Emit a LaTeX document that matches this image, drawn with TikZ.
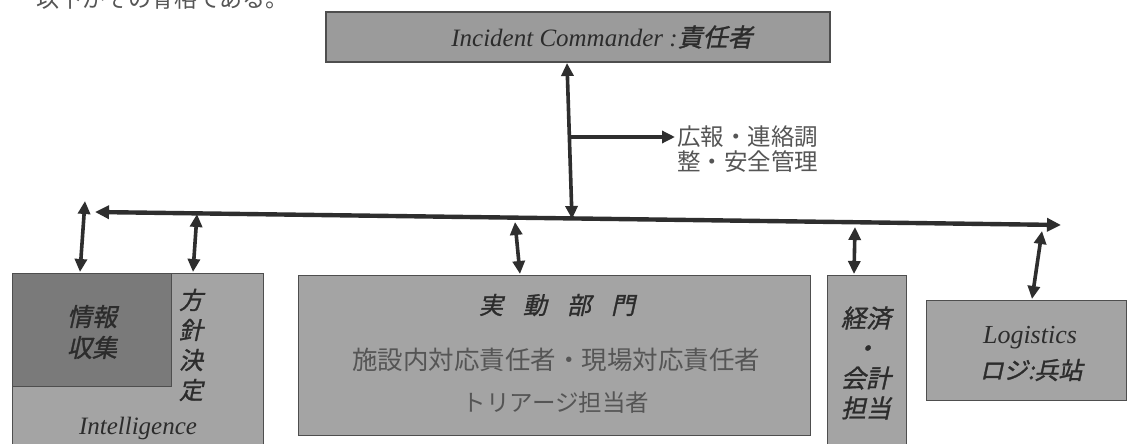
\documentclass[tikz,border=0pt]{standalone}
\usepackage{fontspec}
\setmainfont{Liberation Serif}
\newfontfamily\jp{Noto Sans CJK JP}
\newfontfamily\jpit[FakeSlant=0.22,FakeBold=1.2]{Noto Sans CJK JP}
\usetikzlibrary{arrows.meta}
\definecolor{boxfill}{HTML}{A4A4A4}
\definecolor{topfill}{HTML}{9B9B9B}
\definecolor{darkfill}{HTML}{7A7A7A}
\definecolor{edge}{HTML}{4E4E4E}
\definecolor{ink}{HTML}{2C2C2C}
\definecolor{soft}{HTML}{555555}
\definecolor{arrowc}{HTML}{2E2E2E}
\tikzset{
  box/.style={draw=edge, line width=1.2pt, fill=boxfill, inner sep=0pt},
  txt/.style={text=ink, inner sep=0pt, align=center},
  dbl/.style={draw=arrowc, line width=3.6pt, {Triangle[length=13pt,width=12pt]}-{Triangle[length=13pt,width=12pt]}},
  sgl/.style={draw=arrowc, line width=3.6pt, -{Triangle[length=13pt,width=12pt]}},
}
\newcommand{\fs}[2]{\fontsize{#1}{#2}\selectfont}
\begin{document}
\begin{tikzpicture}[x=1pt,y=-1pt]
\useasboundingbox (0,0) rectangle (1128,444);
\clip (0,0) rectangle (1128,444);
\fill[white] (0,0) rectangle (1128,444);
% cut-off line of text at the top
\node[anchor=west, text=soft, inner sep=0pt, font=\jp\fs{23}{28}] (intro) at (36,-1) {以下がその骨格である。};
% boxes
\node[box, fill=topfill, minimum width=504pt, minimum height=50pt] (ic) at (578,37) {};
\node[txt, font=\fs{25}{30}\itshape] (ictext) at (602,37) {Incident Commander :{\jpit 責任者}};
\node[box, minimum width=251pt, minimum height=200pt, anchor=north west] (intel) at (12,273) {};
\node[box, fill=darkfill, minimum width=159pt, minimum height=113pt, anchor=north west] (info) at (12,273) {};
\node[txt, font=\jpit\fs{25}{31}] (infotext) at (92,332) {情報\\収集};
\node[txt, font=\jpit\fs{24}{30}] (policy) at (191,345) {方\\針\\決\\定};
\node[txt, font=\fs{25}{30}\itshape] (inteltext) at (138,428) {Intelligence};
\node[box, minimum width=512pt, minimum height=160pt, anchor=north west] (ops) at (298,275) {};
\node[txt, font=\jpit\fs{24}{30}] (opsA) at (557,305) {実\hspace{20pt}動\hspace{20pt}部\hspace{20pt}門};
\node[txt, text=soft, font=\jp\fs{25.5}{30}] (opsB) at (556,360) {施設内対応責任者・現場対応責任者};
\node[txt, text=soft, font=\jp\fs{23.5}{30}] (opsC) at (556,403) {トリアージ担当者};
\node[box, minimum width=79pt, minimum height=200pt, anchor=north west] (fin) at (827,275) {};
\node[txt, font=\jpit\fs{25}{30}] (fintext) at (866,363) {経済\\・\\会計\\担当};
\node[box, minimum width=200pt, minimum height=100pt, anchor=north west] (log) at (926,300) {};
\node[txt, font=\fs{26}{30}\itshape] (logA) at (1030,338) {Logistics};
\node[txt, font=\jpit\fs{24}{30}] (logB) at (1031,370) {ロジ:兵站};
% side label
\node[anchor=west, text=soft, inner sep=0pt, align=left, font=\jp\fs{23.5}{25}] (pr) at (677,149.5) {広報・連絡調\\整・安全管理};
% connector points
\coordinate (busL) at (95,212);
\coordinate (busR) at (1061,225);
\coordinate (icb) at (567,63);
\coordinate (j0) at (572,219);
\coordinate (br) at (570,137);
\coordinate (prw) at (675,137);
\coordinate (v1t) at (85,201);
\coordinate (v1b) at (80,272);
\coordinate (v2t) at (197,214);
\coordinate (v2b) at (193,272);
\coordinate (v3t) at (515,222);
\coordinate (v3b) at (520,274);
\coordinate (v4t) at (855,227);
\coordinate (v4b) at (854,274);
\coordinate (v5t) at (1042,231);
\coordinate (v5b) at (1032,299);
% connectors
\draw[draw=arrowc, line width=4.4pt, {Triangle[length=14pt,width=13pt]}-{Triangle[length=14pt,width=13pt]}] (busL) -- (busR);
\draw[dbl] (icb) -- (j0);
\draw[sgl] (br) -- (prw);
\draw[dbl] (v1t) -- (v1b);
\draw[dbl] (v2t) -- (v2b);
\draw[dbl] (v3t) -- (v3b);
\draw[dbl] (v4t) -- (v4b);
\draw[dbl] (v5t) -- (v5b);
\end{tikzpicture}
\end{document}
